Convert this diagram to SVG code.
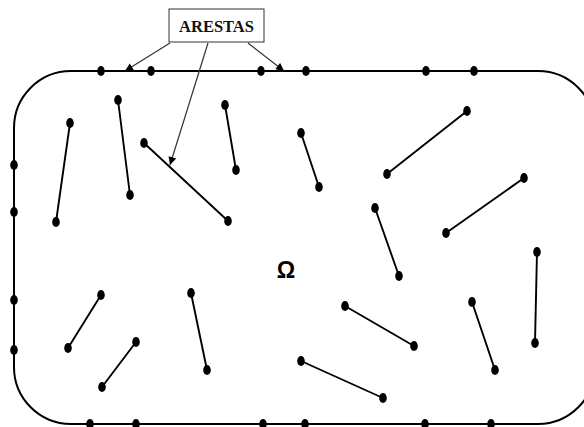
<svg xmlns="http://www.w3.org/2000/svg" width="584" height="427" viewBox="0 0 584 427">
  <style>
    .domain { fill: none; stroke: #000; stroke-width: 2; }
    .edge { stroke: #000; stroke-width: 1.9; stroke-linecap: round; }
    .pt { fill: #000; }
    .ptr { stroke: #333; stroke-width: 1.2; fill: none; marker-end: url(#tip); }
    .lbl { fill: #fff; stroke: #333; stroke-width: 1; }
    .lbltxt { font-family: "Liberation Serif", "Times New Roman", serif; font-weight: bold; font-size: 16.5px; fill: #111; }
    .omega { font-family: "Liberation Sans", Arial, sans-serif; font-weight: bold; font-size: 23px; fill: #000; }
  </style>
  <defs>
    <marker id="tip" viewBox="0 0 10 10" refX="10" refY="5" markerWidth="9" markerHeight="8" markerUnits="userSpaceOnUse" orient="auto">
      <path d="M0,0 L10,5 L0,10 Z" fill="#000"/>
    </marker>
    <ellipse id="dot" cx="0" cy="0" rx="3.8" ry="5.1" class="pt"/>
  </defs>

  <rect width="584" height="427" fill="#fff"/>

  <!-- domain boundary -->
  <g id="domain">
    <rect class="domain" x="14" y="71" width="581" height="353" rx="57" ry="57"/>
    <g id="boundary-nodes">
      <use href="#dot" x="101" y="71"/>
      <use href="#dot" x="151" y="71"/>
      <use href="#dot" x="261" y="71"/>
      <use href="#dot" x="306" y="71"/>
      <use href="#dot" x="426" y="71"/>
      <use href="#dot" x="474" y="71"/>
      <use href="#dot" x="90" y="424"/>
      <use href="#dot" x="136" y="424"/>
      <use href="#dot" x="263" y="424"/>
      <use href="#dot" x="305" y="424"/>
      <use href="#dot" x="425" y="424"/>
      <use href="#dot" x="491" y="424"/>
      <use href="#dot" x="14" y="165"/>
      <use href="#dot" x="14" y="212"/>
      <use href="#dot" x="14" y="300"/>
      <use href="#dot" x="14" y="350"/>
    </g>
  </g>

  <!-- interior edges -->
  <g id="edges">
    <g id="e1"><line class="edge" x1="70" y1="123" x2="56" y2="222"/><use href="#dot" x="70" y="123"/><use href="#dot" x="56" y="222"/></g>
    <g id="e2"><line class="edge" x1="118" y1="100" x2="130" y2="195"/><use href="#dot" x="118" y="100"/><use href="#dot" x="130" y="195"/></g>
    <g id="e3"><line class="edge" x1="144" y1="143" x2="228" y2="221"/><use href="#dot" x="144" y="143"/><use href="#dot" x="228" y="221"/></g>
    <g id="e4"><line class="edge" x1="225" y1="105" x2="236" y2="170"/><use href="#dot" x="225" y="105"/><use href="#dot" x="236" y="170"/></g>
    <g id="e5"><line class="edge" x1="301" y1="133" x2="319" y2="187"/><use href="#dot" x="301" y="133"/><use href="#dot" x="319" y="187"/></g>
    <g id="e6"><line class="edge" x1="467" y1="111" x2="387" y2="174"/><use href="#dot" x="467" y="111"/><use href="#dot" x="387" y="174"/></g>
    <g id="e7"><line class="edge" x1="375" y1="208" x2="399" y2="276"/><use href="#dot" x="375" y="208"/><use href="#dot" x="399" y="276"/></g>
    <g id="e8"><line class="edge" x1="524" y1="178" x2="446" y2="233"/><use href="#dot" x="524" y="178"/><use href="#dot" x="446" y="233"/></g>
    <g id="e9"><line class="edge" x1="537" y1="252" x2="535" y2="343"/><use href="#dot" x="537" y="252"/><use href="#dot" x="535" y="343"/></g>
    <g id="e10"><line class="edge" x1="101" y1="295" x2="68" y2="348"/><use href="#dot" x="101" y="295"/><use href="#dot" x="68" y="348"/></g>
    <g id="e11"><line class="edge" x1="136" y1="342" x2="102" y2="387"/><use href="#dot" x="136" y="342"/><use href="#dot" x="102" y="387"/></g>
    <g id="e12"><line class="edge" x1="191" y1="293" x2="207" y2="370"/><use href="#dot" x="191" y="293"/><use href="#dot" x="207" y="370"/></g>
    <g id="e13"><line class="edge" x1="345" y1="306" x2="414" y2="346"/><use href="#dot" x="345" y="306"/><use href="#dot" x="414" y="346"/></g>
    <g id="e14"><line class="edge" x1="301" y1="361" x2="383" y2="398"/><use href="#dot" x="301" y="361"/><use href="#dot" x="383" y="398"/></g>
    <g id="e15"><line class="edge" x1="472" y1="302" x2="495" y2="370"/><use href="#dot" x="472" y="302"/><use href="#dot" x="495" y="370"/></g>
  </g>

  <!-- domain symbol -->
  <text class="omega" x="286" y="278" text-anchor="middle">Ω</text>

  <!-- label with pointers -->
  <g id="label">
    <rect class="lbl" x="169" y="9" width="95" height="33"/>
    <text class="lbltxt" x="216.5" y="32" text-anchor="middle">ARESTAS</text>
  </g>
  <g id="pointers">
    <line class="ptr" x1="170" y1="43" x2="125" y2="71"/>
    <line class="ptr" x1="208" y1="43" x2="170" y2="165"/>
    <line class="ptr" x1="248" y1="43" x2="284" y2="71"/>
  </g>
</svg>
